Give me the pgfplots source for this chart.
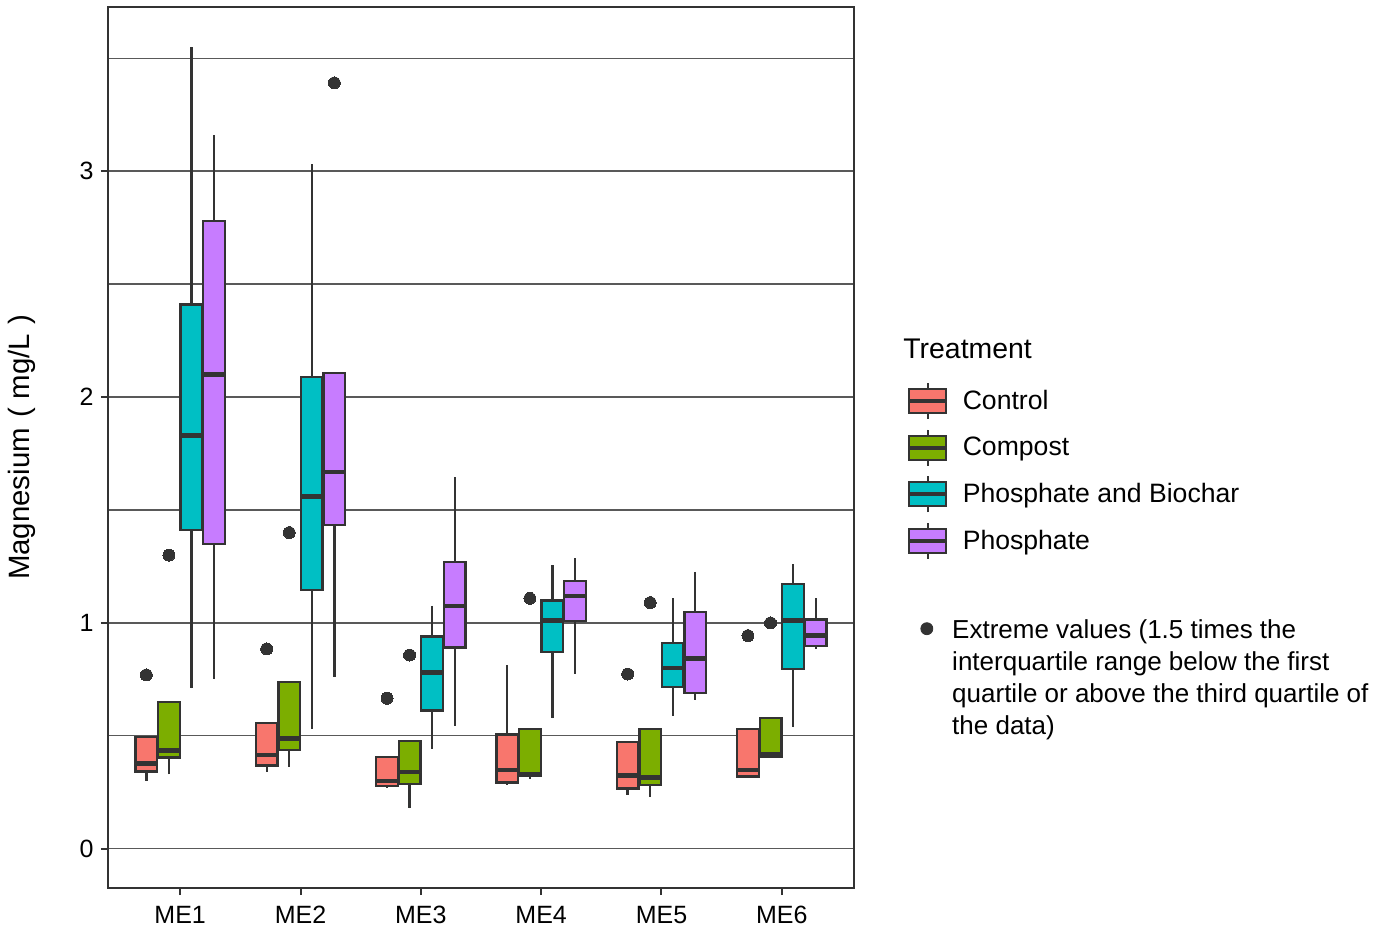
\documentclass[border=0pt]{standalone}
\usepackage{pgfplots}
\pgfplotsset{compat=1.18}
\usepgfplotslibrary{statistics}
\usepackage{fontspec}
\setmainfont{Liberation Sans}
\definecolor{dgray}{HTML}{333333}
\definecolor{cctrl}{HTML}{F8766D}
\definecolor{ccomp}{HTML}{7CAE00}
\definecolor{cpb}{HTML}{00BFC4}
\definecolor{cph}{HTML}{C77CFF}
\pgfplotsset{
  bxstyle/.style={draw=dgray, line width=1.15pt, mark=*, mark size=3pt,
    mark options={fill=dgray, draw=dgray, line width=0pt}, forget plot,
    boxplot/draw direction=y,
    boxplot/box extend=0.18, boxplot/whisker extend=0,
    boxplot/every whisker/.style={draw=dgray, line width=1.15pt},
    boxplot/every box/.style={draw=dgray, line width=1.15pt},
    boxplot/every median/.style={draw=dgray, line width=2.3pt}},
  boxlegend/.style={legend image code/.code={
    \draw[draw=dgray, line width=1pt] (9.25pt,6pt) -- (9.25pt,9pt) (9.25pt,-6pt) -- (9.25pt,-9pt);
    \draw[##1, draw=dgray, line width=1pt] (0pt,-6pt) rectangle (18.5pt,6pt);
    \draw[draw=dgray, line width=2pt] (0pt,0pt) -- (18.5pt,0pt);
  }}
}
\newcommand{\bx}[8]{\addplot[bxstyle, fill=#2, boxplot prepared={draw position=#1,
  lower whisker=#3, lower quartile=#4, median=#5, upper quartile=#6, upper whisker=#7}]
  coordinates {#8};}
\begin{document}
\begin{tikzpicture}
\useasboundingbox (-54pt,-23pt) rectangle (646pt,444pt);
\begin{axis}[
  at={(0,0)}, anchor=south west,
  scale only axis, width=373pt, height=440.5pt,
  xmin=0.4, xmax=6.6, ymin=-0.173, ymax=3.726,
  xtick={1,2,3,4,5,6}, xticklabels={ME1,ME2,ME3,ME4,ME5,ME6},
  ytick={0,1,2,3}, minor ytick={0.5,1.5,2.5,3.5},
  ymajorgrids, yminorgrids,
  major grid style={black!65, line width=0.55pt},
  minor grid style={black!65, line width=0.55pt},
  axis line style={dgray, line width=0.8pt},
  tick pos=left, tick align=outside, major tick length=3.5pt, minor tick length=0pt,
  tick style={dgray, line width=1pt},
  /pgf/number format/assume math mode=true,
  ticklabel style={font=\fontsize{12.5}{14}\selectfont, inner sep=0pt},
  xticklabel style={yshift=-5.5pt},
  yticklabel style={xshift=-3.5pt},
  every axis y label/.style={at={(axis description cs:-0.1153,0.5)}, rotate=90, anchor=center},
  ylabel={\fontsize{14.7}{16}\selectfont Magnesium\hspace{0.35em}(\hspace{0.3em}mg/L\hspace{0.3em})},
  legend style={at={(axis description cs:1.071,0.5747)}, anchor=north west,
    draw=none, fill=none, inner sep=0pt, row sep=4.3pt,
    font=\fontsize{13.3}{15}\selectfont,
    nodes={inner sep=0pt},
    /tikz/every odd column/.append style={column sep=7.2pt}},
  legend cell align=left,
]
% ME1
\bx{0.71875}{cctrl}{0.30}{0.342}{0.379}{0.495}{0.495}{(0,0.77)}
\bx{0.90625}{ccomp}{0.33}{0.404}{0.435}{0.649}{0.649}{(0,1.30)}
\bx{1.09375}{cpb}{0.71}{1.41}{1.83}{2.41}{3.55}{}
\bx{1.28125}{cph}{0.75}{1.35}{2.10}{2.78}{3.16}{}
% ME2
\bx{1.71875}{cctrl}{0.342}{0.369}{0.415}{0.556}{0.556}{(0,0.885)}
\bx{1.90625}{ccomp}{0.364}{0.438}{0.49}{0.738}{0.738}{(0,1.40)}
\bx{2.09375}{cpb}{0.53}{1.146}{1.56}{2.09}{3.03}{}
\bx{2.28125}{cph}{0.76}{1.434}{1.668}{2.106}{2.106}{(0,3.39)}
% ME3
\bx{2.71875}{cctrl}{0.27}{0.279}{0.30}{0.408}{0.408}{(0,0.667)}
\bx{2.90625}{ccomp}{0.18}{0.288}{0.34}{0.479}{0.479}{(0,0.858)}
\bx{3.09375}{cpb}{0.444}{0.612}{0.78}{0.94}{1.077}{}
\bx{3.28125}{cph}{0.546}{0.892}{1.075}{1.269}{1.647}{}
% ME4
\bx{3.71875}{cctrl}{0.283}{0.294}{0.35}{0.507}{0.814}{}
\bx{3.90625}{ccomp}{0.31}{0.323}{0.33}{0.53}{0.53}{(0,1.109)}
\bx{4.09375}{cpb}{0.578}{0.87}{1.01}{1.10}{1.257}{}
\bx{4.28125}{cph}{0.774}{1.01}{1.12}{1.187}{1.286}{}
% ME5
\bx{4.71875}{cctrl}{0.239}{0.268}{0.324}{0.473}{0.473}{(0,0.774)}
\bx{4.90625}{ccomp}{0.229}{0.283}{0.315}{0.53}{0.53}{(0,1.09)}
\bx{5.09375}{cpb}{0.59}{0.717}{0.80}{0.91}{1.109}{}
\bx{5.28125}{cph}{0.659}{0.689}{0.844}{1.047}{1.227}{}
% ME6
\bx{5.71875}{cctrl}{0.32}{0.32}{0.35}{0.53}{0.53}{(0,0.944)}
\bx{5.90625}{ccomp}{0.406}{0.406}{0.42}{0.578}{0.578}{(0,1.00)}
\bx{6.09375}{cpb}{0.538}{0.795}{1.01}{1.171}{1.26}{}
\bx{6.28125}{cph}{0.883}{0.898}{0.944}{1.016}{1.109}{}
\addlegendimage{boxlegend, fill=cctrl}\addlegendentry{Control}
\addlegendimage{boxlegend, fill=ccomp}\addlegendentry{Compost}
\addlegendimage{boxlegend, fill=cpb}\addlegendentry{Phosphate and Biochar}
\addlegendimage{boxlegend, fill=cph}\addlegendentry{Phosphate}
\end{axis}
\begin{axis}[
  at={(0,0)}, anchor=south west,
  scale only axis, width=373pt, height=440.5pt,
  hide axis, xmin=0, xmax=1, ymin=0, ymax=1, clip=false,
  legend style={at={(axis description cs:1.0885,0.3092)}, anchor=north west,
    draw=none, fill=none, inner sep=0pt,
    font=\fontsize{13}{16}\selectfont,
    nodes={inner sep=0pt},
    /tikz/every odd column/.append style={column sep=9.5pt}},
  legend cell align=left,
]
\addplot[draw=none, forget plot] coordinates {(0.5,0.5)};
\addlegendimage{legend image code/.code={\fill[dgray] (3pt,0pt) circle (3pt);}}
\addlegendentry{\begin{tabular}[t]{@{}l@{}}Extreme values (1.5 times the\\interquartile range below the first\\quartile or above the third quartile of\\the data)\end{tabular}}
\node[anchor=west, inner sep=0pt, font=\fontsize{14.2}{16}\selectfont] at (axis description cs:1.0657,0.6118) {Treatment};
\end{axis}
\end{tikzpicture}
\end{document}
